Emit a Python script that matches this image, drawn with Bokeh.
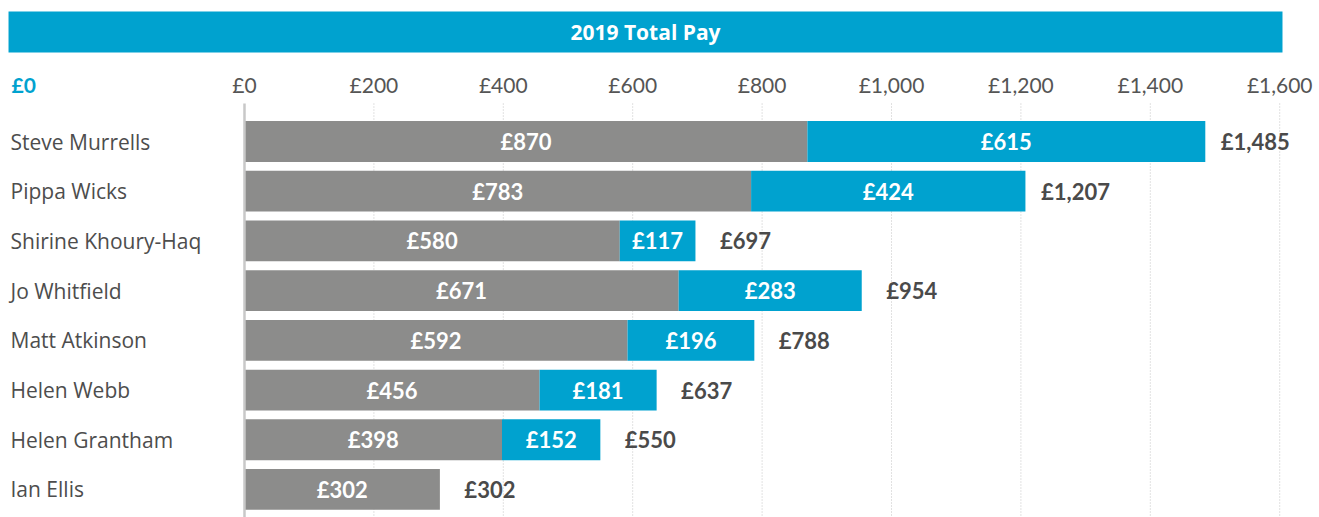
from bokeh.plotting import figure
from bokeh.models import Range1d, ColumnDataSource
from bokeh.core.properties import value
from bokeh.embed import file_html
from bokeh.resources import INLINE

# ---- data ----
names = ["Steve Murrells", "Pippa Wicks", "Shirine Khoury-Haq", "Jo Whitfield",
         "Matt Atkinson", "Helen Webb", "Helen Grantham", "Ian Ellis"]
base_pay = [870, 783, 580, 671, 592, 456, 398, 302]
extra_pay = [615, 424, 117, 283, 196, 181, 152, 0]
total_pay = [1485, 1207, 697, 954, 788, 637, 550, 302]
ticks = [0, 200, 400, 600, 800, 1000, 1200, 1400, 1600]
title_text = "2019 Total Pay"
left_label = "£0"

GREY = "#8c8c8b"
BLUE = "#00a2cf"
TXT = "#4a4a4a"
NUMFONT = value("Lato")
WORDFONT = value("Open Sans")

X0, X1 = -377.1, 1661.5
Y_BOTTOM, Y_TOP = 7.564, -2.8365

def money(v):
    return "£{:,}".format(v)

p = figure(width=1319, height=517, x_range=Range1d(X0, X1),
           y_range=Range1d(Y_BOTTOM, Y_TOP), output_backend="svg",
           toolbar_location=None, x_axis_type=None, y_axis_type=None,
           min_border=0)
p.outline_line_color = None
p.background_fill_color = "white"
p.border_fill_color = "white"

idx = list(range(len(names)))

# header band
HL, HR = -364.7, 1604.3
p.quad(left=[HL], right=[HR], top=[-2.615], bottom=[-1.79], color=BLUE, line_color=None)
p.text(x=[(HL + HR) / 2], y=[-2.2], text=[title_text], text_font=WORDFONT,
       text_font_style="bold", text_font_size="21px", text_color="white",
       text_align="center", text_baseline="middle")

# tick labels
p.text(x=ticks, y=[-1.137] * len(ticks), text=[money(t) for t in ticks],
       text_font=NUMFONT, text_font_size="21px", text_color="#555555",
       text_align="center", text_baseline="middle")
p.text(x=[X0], y=[-1.137], text=[left_label], x_offset=11, text_font=NUMFONT,
       text_font_style="bold", text_font_size="21px", text_color=BLUE,
       text_align="left", text_baseline="middle")

# gridlines
gt = ticks[1:]
p.segment(x0=gt, x1=gt, y0=[-0.764] * len(gt), y1=[Y_BOTTOM] * len(gt),
          line_color="#c4c4c4", line_width=1, line_dash="1 2")

# bars
src = ColumnDataSource(dict(
    y=idx, base=base_pay, extra=extra_pay, total=total_pay,
    base_mid=[b / 2 for b in base_pay],
    base_lab=[money(b) for b in base_pay],
    total_lab=[money(t) for t in total_pay],
))
p.hbar(y="y", left=0, right="base", height=0.82, source=src, color=GREY, line_color=None)

ei = [i for i in idx if extra_pay[i] > 0]
esrc = ColumnDataSource(dict(
    y=ei,
    left=[base_pay[i] for i in ei],
    right=[base_pay[i] + extra_pay[i] for i in ei],
    mid=[base_pay[i] + extra_pay[i] / 2 for i in ei],
    lab=[money(extra_pay[i]) for i in ei],
))
p.hbar(y="y", left="left", right="right", height=0.82, source=esrc, color=BLUE, line_color=None)

# zero line
p.segment(x0=[0], x1=[0], y0=[-0.764], y1=[Y_BOTTOM], line_color="#c8c8c8", line_width=2.5)

# labels
p.text(x="base_mid", y="y", text="base_lab", source=src, text_font=NUMFONT,
       text_font_style="bold", text_font_size="22px", text_color="white",
       text_align="center", text_baseline="middle")
p.text(x="mid", y="y", text="lab", source=esrc, text_font=NUMFONT,
       text_font_style="bold", text_font_size="22px", text_color="white",
       text_align="center", text_baseline="middle")
p.text(x="total", y="y", text="total_lab", source=src, x_offset=50, text_font=NUMFONT,
       text_font_style="bold", text_font_size="22px", text_color=TXT,
       text_align="center", text_baseline="middle")

# names
p.text(x=[X0] * len(names), y=idx, text=names, x_offset=10, text_font=WORDFONT,
       text_font_size="21px", text_color="#4d4d4d",
       text_align="left", text_baseline="middle")

open("out.html", "w").write(file_html(p, INLINE))
